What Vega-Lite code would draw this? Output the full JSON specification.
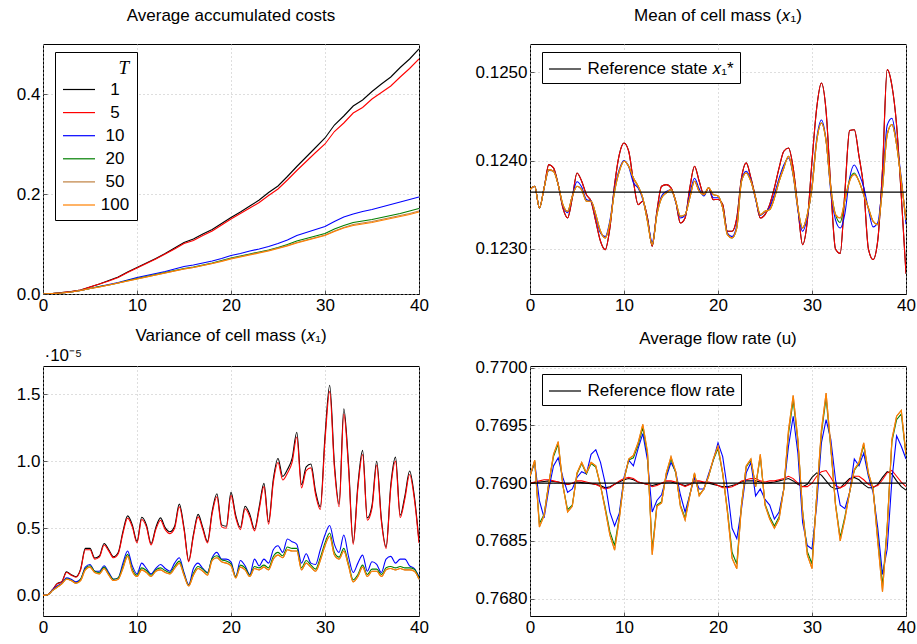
{
"$schema": "https://vega.github.io/schema/vega-lite/v6.json",
"background": "white",
"padding": {"left": 0, "top": 6, "right": 0, "bottom": 0},
"columns": 2,
"spacing": {"row": 72, "column": 111},
"bounds": "flush",
"datasets": {
"costs": [
{"x":0,"1":0,"5":0,"10":0,"20":0,"50":0,"100":0},
{"x":1,"1":0.001,"5":0.001,"10":0.001,"20":0.001,"50":0.001,"100":0.001},
{"x":2,"1":0.003,"5":0.003,"10":0.002,"20":0.002,"50":0.002,"100":0.002},
{"x":3,"1":0.005,"5":0.005,"10":0.004,"20":0.004,"50":0.004,"100":0.004},
{"x":4,"1":0.008,"5":0.008,"10":0.007,"20":0.007,"50":0.007,"100":0.007},
{"x":5,"1":0.014,"5":0.014,"10":0.011,"20":0.011,"50":0.011,"100":0.011},
{"x":6,"1":0.02,"5":0.02,"10":0.015,"20":0.015,"50":0.014,"100":0.014},
{"x":7,"1":0.027,"5":0.026,"10":0.019,"20":0.018,"50":0.018,"100":0.018},
{"x":8,"1":0.034,"5":0.033,"10":0.023,"20":0.022,"50":0.022,"100":0.022},
{"x":9,"1":0.044,"5":0.043,"10":0.028,"20":0.027,"50":0.026,"100":0.026},
{"x":10,"1":0.053,"5":0.052,"10":0.033,"20":0.031,"50":0.030,"100":0.030},
{"x":11,"1":0.062,"5":0.061,"10":0.037,"20":0.035,"50":0.034,"100":0.034},
{"x":12,"1":0.071,"5":0.070,"10":0.041,"20":0.039,"50":0.038,"100":0.038},
{"x":13,"1":0.081,"5":0.080,"10":0.045,"20":0.043,"50":0.042,"100":0.042},
{"x":14,"1":0.092,"5":0.090,"10":0.050,"20":0.047,"50":0.046,"100":0.046},
{"x":15,"1":0.103,"5":0.101,"10":0.055,"20":0.051,"50":0.050,"100":0.050},
{"x":16,"1":0.110,"5":0.107,"10":0.058,"20":0.054,"50":0.053,"100":0.053},
{"x":17,"1":0.120,"5":0.117,"10":0.062,"20":0.058,"50":0.057,"100":0.057},
{"x":18,"1":0.129,"5":0.126,"10":0.066,"20":0.062,"50":0.061,"100":0.061},
{"x":19,"1":0.141,"5":0.138,"10":0.071,"20":0.067,"50":0.066,"100":0.065},
{"x":20,"1":0.153,"5":0.150,"10":0.077,"20":0.072,"50":0.071,"100":0.070},
{"x":21,"1":0.164,"5":0.161,"10":0.081,"20":0.076,"50":0.075,"100":0.074},
{"x":22,"1":0.176,"5":0.172,"10":0.086,"20":0.080,"50":0.079,"100":0.078},
{"x":23,"1":0.188,"5":0.183,"10":0.090,"20":0.084,"50":0.083,"100":0.082},
{"x":24,"1":0.203,"5":0.197,"10":0.095,"20":0.088,"50":0.087,"100":0.086},
{"x":25,"1":0.216,"5":0.210,"10":0.101,"20":0.093,"50":0.092,"100":0.091},
{"x":26,"1":0.235,"5":0.228,"10":0.108,"20":0.099,"50":0.097,"100":0.096},
{"x":27,"1":0.255,"5":0.247,"10":0.117,"20":0.106,"50":0.103,"100":0.102},
{"x":28,"1":0.274,"5":0.265,"10":0.123,"20":0.111,"50":0.108,"100":0.107},
{"x":29,"1":0.293,"5":0.283,"10":0.129,"20":0.116,"50":0.113,"100":0.112},
{"x":30,"1":0.312,"5":0.300,"10":0.135,"20":0.121,"50":0.118,"100":0.117},
{"x":31,"1":0.338,"5":0.325,"10":0.145,"20":0.130,"50":0.126,"100":0.125},
{"x":32,"1":0.356,"5":0.342,"10":0.154,"20":0.137,"50":0.133,"100":0.132},
{"x":33,"1":0.376,"5":0.362,"10":0.160,"20":0.143,"50":0.139,"100":0.137},
{"x":34,"1":0.388,"5":0.373,"10":0.165,"20":0.146,"50":0.142,"100":0.140},
{"x":35,"1":0.405,"5":0.390,"10":0.169,"20":0.149,"50":0.145,"100":0.143},
{"x":36,"1":0.420,"5":0.403,"10":0.174,"20":0.153,"50":0.149,"100":0.147},
{"x":37,"1":0.434,"5":0.416,"10":0.179,"20":0.157,"50":0.153,"100":0.151},
{"x":38,"1":0.453,"5":0.434,"10":0.184,"20":0.161,"50":0.157,"100":0.155},
{"x":39,"1":0.470,"5":0.451,"10":0.189,"20":0.166,"50":0.161,"100":0.159},
{"x":40,"1":0.490,"5":0.470,"10":0.194,"20":0.171,"50":0.166,"100":0.164}
],
"mean": [
{"x":0,"1":0.123672,"5":0.123672,"10":0.123672,"20":0.123672,"50":0.123672,"100":0.123672},
{"x":0.5,"1":0.123709,"5":0.123709,"10":0.123709,"20":0.123709,"50":0.123709,"100":0.123709},
{"x":1,"1":0.123464,"5":0.123464,"10":0.123464,"20":0.123464,"50":0.123464,"100":0.123464},
{"x":1.5,"1":0.123691,"5":0.123691,"10":0.123691,"20":0.123691,"50":0.123691,"100":0.123691},
{"x":2,"1":0.123955,"5":0.123955,"10":0.12389,"20":0.123898,"50":0.123898,"100":0.123898},
{"x":2.5,"1":0.123917,"5":0.123917,"10":0.123885,"20":0.123879,"50":0.123879,"100":0.123879},
{"x":3,"1":0.123728,"5":0.123728,"10":0.123728,"20":0.123728,"50":0.123728,"100":0.123728},
{"x":3.5,"1":0.123464,"5":0.123464,"10":0.12349,"20":0.123502,"50":0.123502,"100":0.123502},
{"x":4,"1":0.123351,"5":0.123351,"10":0.12341,"20":0.123426,"50":0.123426,"100":0.123426},
{"x":4.5,"1":0.123577,"5":0.123577,"10":0.1236,"20":0.123596,"50":0.123596,"100":0.123596},
{"x":5,"1":0.12386,"5":0.12386,"10":0.12376,"20":0.123709,"50":0.123709,"100":0.123709},
{"x":5.5,"1":0.123766,"5":0.123766,"10":0.1237,"20":0.123672,"50":0.123672,"100":0.123672},
{"x":6,"1":0.123615,"5":0.123615,"10":0.12356,"20":0.12354,"50":0.12354,"100":0.12354},
{"x":6.5,"1":0.12354,"5":0.12354,"10":0.12354,"20":0.12354,"50":0.12354,"100":0.12354},
{"x":7,"1":0.123313,"5":0.123313,"10":0.12337,"20":0.123389,"50":0.123389,"100":0.123389},
{"x":7.5,"1":0.123087,"5":0.123087,"10":0.12318,"20":0.1232,"50":0.1232,"100":0.1232},
{"x":8,"1":0.122992,"5":0.122992,"10":0.12314,"20":0.123125,"50":0.123125,"100":0.123125},
{"x":8.5,"1":0.123238,"5":0.123238,"10":0.12332,"20":0.123294,"50":0.123294,"100":0.123294},
{"x":9,"1":0.123728,"5":0.123728,"10":0.12368,"20":0.123653,"50":0.123653,"100":0.123653},
{"x":9.5,"1":0.124068,"5":0.124068,"10":0.1239,"20":0.123879,"50":0.123879,"100":0.123879},
{"x":10,"1":0.1242,"5":0.1242,"10":0.124,"20":0.123992,"50":0.123992,"100":0.123992},
{"x":10.5,"1":0.124106,"5":0.124106,"10":0.12393,"20":0.123936,"50":0.123936,"100":0.123936},
{"x":11,"1":0.123766,"5":0.123766,"10":0.12375,"20":0.123804,"50":0.123804,"100":0.123804},
{"x":11.5,"1":0.123502,"5":0.123502,"10":0.12369,"20":0.123709,"50":0.123709,"100":0.123709},
{"x":12,"1":0.12354,"5":0.12354,"10":0.12356,"20":0.123577,"50":0.123577,"100":0.123577},
{"x":12.5,"1":0.123351,"5":0.123351,"10":0.12333,"20":0.123313,"50":0.123313,"100":0.123313},
{"x":13,"1":0.12303,"5":0.12303,"10":0.12308,"20":0.123049,"50":0.123049,"100":0.123049},
{"x":13.5,"1":0.123426,"5":0.123426,"10":0.1234,"20":0.123389,"50":0.123389,"100":0.123389},
{"x":14,"1":0.123709,"5":0.123709,"10":0.1236,"20":0.123577,"50":0.123577,"100":0.123577},
{"x":14.5,"1":0.123728,"5":0.123728,"10":0.12365,"20":0.123634,"50":0.123634,"100":0.123634},
{"x":15,"1":0.123691,"5":0.123691,"10":0.12367,"20":0.123672,"50":0.123672,"100":0.123672},
{"x":15.5,"1":0.12354,"5":0.12354,"10":0.12353,"20":0.12354,"50":0.12354,"100":0.12354},
{"x":16,"1":0.123294,"5":0.123294,"10":0.12335,"20":0.12337,"50":0.12337,"100":0.12337},
{"x":16.5,"1":0.123351,"5":0.123351,"10":0.12338,"20":0.123389,"50":0.123389,"100":0.123389},
{"x":17,"1":0.123691,"5":0.123691,"10":0.12362,"20":0.123577,"50":0.123577,"100":0.123577},
{"x":17.5,"1":0.123936,"5":0.123936,"10":0.1238,"20":0.123766,"50":0.123766,"100":0.123766},
{"x":18,"1":0.123766,"5":0.123766,"10":0.12368,"20":0.123653,"50":0.123653,"100":0.123653},
{"x":18.5,"1":0.123615,"5":0.123615,"10":0.1236,"20":0.123615,"50":0.123615,"100":0.123615},
{"x":19,"1":0.123691,"5":0.123691,"10":0.12369,"20":0.123691,"50":0.123691,"100":0.123691},
{"x":19.5,"1":0.123558,"5":0.123558,"10":0.12358,"20":0.123615,"50":0.123615,"100":0.123615},
{"x":20,"1":0.12356,"5":0.12356,"10":0.12358,"20":0.1236,"50":0.1236,"100":0.1236},
{"x":20.5,"1":0.123502,"5":0.123502,"10":0.12347,"20":0.123464,"50":0.123464,"100":0.123464},
{"x":21,"1":0.1232,"5":0.1232,"10":0.12318,"20":0.123162,"50":0.123162,"100":0.123162},
{"x":21.5,"1":0.1232,"5":0.1232,"10":0.12314,"20":0.123125,"50":0.123125,"100":0.123125},
{"x":22,"1":0.123351,"5":0.123351,"10":0.12327,"20":0.123238,"50":0.123238,"100":0.123238},
{"x":22.5,"1":0.123804,"5":0.123804,"10":0.12378,"20":0.123766,"50":0.123766,"100":0.123766},
{"x":23,"1":0.123974,"5":0.123974,"10":0.12388,"20":0.12386,"50":0.12386,"100":0.12386},
{"x":23.5,"1":0.123804,"5":0.123804,"10":0.12378,"20":0.123766,"50":0.123766,"100":0.123766},
{"x":24,"1":0.123577,"5":0.123577,"10":0.12356,"20":0.123577,"50":0.123577,"100":0.123577},
{"x":24.5,"1":0.123351,"5":0.123351,"10":0.12338,"20":0.123389,"50":0.123389,"100":0.123389},
{"x":25,"1":0.123389,"5":0.123389,"10":0.12342,"20":0.123426,"50":0.123426,"100":0.123426},
{"x":25.5,"1":0.123502,"5":0.123502,"10":0.12347,"20":0.123445,"50":0.123445,"100":0.123445},
{"x":26,"1":0.123691,"5":0.123691,"10":0.12362,"20":0.123577,"50":0.123577,"100":0.123577},
{"x":26.5,"1":0.123917,"5":0.123917,"10":0.1238,"20":0.123766,"50":0.123766,"100":0.123766},
{"x":27,"1":0.124106,"5":0.124106,"10":0.12395,"20":0.123917,"50":0.123917,"100":0.123917},
{"x":27.5,"1":0.124143,"5":0.124143,"10":0.12403,"20":0.124049,"50":0.124049,"100":0.124049},
{"x":28,"1":0.123917,"5":0.123917,"10":0.12383,"20":0.123842,"50":0.123842,"100":0.123842},
{"x":28.5,"1":0.123464,"5":0.123464,"10":0.12344,"20":0.123464,"50":0.123464,"100":0.123464},
{"x":29,"1":0.123049,"5":0.123049,"10":0.1232,"20":0.123238,"50":0.123238,"100":0.123238},
{"x":29.5,"1":0.123313,"5":0.123313,"10":0.12336,"20":0.123389,"50":0.123389,"100":0.123389},
{"x":30,"1":0.123992,"5":0.123992,"10":0.12372,"20":0.123691,"50":0.123691,"100":0.123691},
{"x":30.5,"1":0.124596,"5":0.124596,"10":0.12425,"20":0.124219,"50":0.124219,"100":0.124219},
{"x":31,"1":0.124879,"5":0.124879,"10":0.12446,"20":0.124426,"50":0.124426,"100":0.124426},
{"x":31.5,"1":0.124558,"5":0.124558,"10":0.12423,"20":0.124219,"50":0.124219,"100":0.124219},
{"x":32,"1":0.123691,"5":0.123691,"10":0.12365,"20":0.123691,"50":0.123691,"100":0.123691},
{"x":32.5,"1":0.123,"5":0.123,"10":0.12333,"20":0.123389,"50":0.123389,"100":0.123389},
{"x":33,"1":0.12295,"5":0.12295,"10":0.123237,"20":0.1233,"50":0.123351,"100":0.123351},
{"x":33.5,"1":0.12365,"5":0.12365,"10":0.1234,"20":0.12355,"50":0.12355,"100":0.12355},
{"x":34,"1":0.12434,"5":0.12434,"10":0.1238,"20":0.12378,"50":0.123766,"100":0.123766},
{"x":34.5,"1":0.12435,"5":0.12435,"10":0.12395,"20":0.12386,"50":0.123842,"100":0.123842},
{"x":35,"1":0.12405,"5":0.12405,"10":0.12385,"20":0.123766,"50":0.123766,"100":0.123766},
{"x":35.5,"1":0.12369,"5":0.12369,"10":0.1237,"20":0.123615,"50":0.123615,"100":0.123615},
{"x":36,"1":0.123,"5":0.123,"10":0.12345,"20":0.123464,"50":0.123464,"100":0.123464},
{"x":36.5,"1":0.12288,"5":0.12288,"10":0.12325,"20":0.123313,"50":0.123313,"100":0.123313},
{"x":37,"1":0.1231,"5":0.1231,"10":0.1233,"20":0.123275,"50":0.123275,"100":0.123275},
{"x":37.5,"1":0.1239,"5":0.1239,"10":0.12375,"20":0.123691,"50":0.123691,"100":0.123691},
{"x":38,"1":0.12503,"5":0.12503,"10":0.1244,"20":0.124294,"50":0.124294,"100":0.124294},
{"x":38.5,"1":0.12485,"5":0.12485,"10":0.12448,"20":0.124408,"50":0.124408,"100":0.124408},
{"x":39,"1":0.1244,"5":0.1244,"10":0.1242,"20":0.124181,"50":0.124181,"100":0.124181},
{"x":39.5,"1":0.1236,"5":0.1236,"10":0.1238,"20":0.123766,"50":0.123766,"100":0.123766},
{"x":40,"1":0.12272,"5":0.12272,"10":0.12328,"20":0.12333,"50":0.12333,"100":0.12333}
],
"var": [
{"x":0,"1":0,"5":0,"10":0,"20":0,"50":0,"100":0},
{"x":0.5,"1":0.005,"5":0.005,"10":0.005,"20":0.005,"50":0.005,"100":0.005},
{"x":1,"1":0.04,"5":0.04,"10":0.04,"20":0.035,"50":0.035,"100":0.035},
{"x":1.5,"1":0.087,"5":0.085,"10":0.07,"20":0.062,"50":0.06,"100":0.06},
{"x":2,"1":0.102,"5":0.1,"10":0.09,"20":0.087,"50":0.085,"100":0.085},
{"x":2.5,"1":0.175,"5":0.17,"10":0.13,"20":0.123,"50":0.12,"100":0.12},
{"x":3,"1":0.154,"5":0.15,"10":0.12,"20":0.113,"50":0.11,"100":0.11},
{"x":3.5,"1":0.139,"5":0.135,"10":0.1,"20":0.093,"50":0.09,"100":0.09},
{"x":4,"1":0.195,"5":0.19,"10":0.12,"20":0.12,"50":0.11,"100":0.11},
{"x":4.5,"1":0.35,"5":0.34,"10":0.21,"20":0.2,"50":0.19,"100":0.19},
{"x":5,"1":0.35,"5":0.34,"10":0.23,"20":0.22,"50":0.21,"100":0.21},
{"x":5.5,"1":0.278,"5":0.27,"10":0.18,"20":0.18,"50":0.17,"100":0.17},
{"x":6,"1":0.293,"5":0.285,"10":0.18,"20":0.17,"50":0.16,"100":0.16},
{"x":6.5,"1":0.386,"5":0.375,"10":0.22,"20":0.21,"50":0.2,"100":0.2},
{"x":7,"1":0.34,"5":0.33,"10":0.17,"20":0.16,"50":0.15,"100":0.15},
{"x":7.5,"1":0.288,"5":0.28,"10":0.12,"20":0.12,"50":0.11,"100":0.11},
{"x":8,"1":0.319,"5":0.31,"10":0.13,"20":0.13,"50":0.12,"100":0.12},
{"x":8.5,"1":0.474,"5":0.46,"10":0.24,"20":0.215,"50":0.2,"100":0.2},
{"x":9,"1":0.592,"5":0.575,"10":0.33,"20":0.305,"50":0.29,"100":0.29},
{"x":9.5,"1":0.525,"5":0.51,"10":0.22,"20":0.195,"50":0.18,"100":0.18},
{"x":10,"1":0.402,"5":0.39,"10":0.16,"20":0.15,"50":0.14,"100":0.14},
{"x":10.5,"1":0.582,"5":0.565,"10":0.24,"20":0.205,"50":0.19,"100":0.19},
{"x":11,"1":0.525,"5":0.51,"10":0.2,"20":0.185,"50":0.17,"100":0.17},
{"x":11.5,"1":0.386,"5":0.375,"10":0.16,"20":0.15,"50":0.14,"100":0.14},
{"x":12,"1":0.505,"5":0.49,"10":0.2,"20":0.19,"50":0.18,"100":0.18},
{"x":12.5,"1":0.577,"5":0.56,"10":0.23,"20":0.205,"50":0.19,"100":0.19},
{"x":13,"1":0.505,"5":0.49,"10":0.2,"20":0.185,"50":0.17,"100":0.17},
{"x":13.5,"1":0.474,"5":0.46,"10":0.18,"20":0.17,"50":0.16,"100":0.16},
{"x":14,"1":0.515,"5":0.5,"10":0.24,"20":0.215,"50":0.2,"100":0.2},
{"x":14.5,"1":0.68,"5":0.66,"10":0.28,"20":0.255,"50":0.24,"100":0.24},
{"x":15,"1":0.505,"5":0.49,"10":0.17,"20":0.16,"50":0.15,"100":0.15},
{"x":15.5,"1":0.258,"5":0.25,"10":0.08,"20":0.075,"50":0.07,"100":0.07},
{"x":16,"1":0.453,"5":0.44,"10":0.2,"20":0.165,"50":0.15,"100":0.15},
{"x":16.5,"1":0.603,"5":0.585,"10":0.24,"20":0.215,"50":0.2,"100":0.2},
{"x":17,"1":0.505,"5":0.49,"10":0.2,"20":0.195,"50":0.18,"100":0.18},
{"x":17.5,"1":0.402,"5":0.39,"10":0.17,"20":0.165,"50":0.15,"100":0.15},
{"x":18,"1":0.628,"5":0.61,"10":0.28,"20":0.275,"50":0.26,"100":0.26},
{"x":18.5,"1":0.757,"5":0.735,"10":0.32,"20":0.295,"50":0.28,"100":0.28},
{"x":19,"1":0.525,"5":0.51,"10":0.27,"20":0.265,"50":0.25,"100":0.25},
{"x":19.5,"1":0.515,"5":0.5,"10":0.27,"20":0.255,"50":0.24,"100":0.24},
{"x":20,"1":0.767,"5":0.745,"10":0.25,"20":0.235,"50":0.22,"100":0.22},
{"x":20.5,"1":0.597,"5":0.58,"10":0.14,"20":0.14,"50":0.13,"100":0.13},
{"x":21,"1":0.505,"5":0.49,"10":0.26,"20":0.225,"50":0.21,"100":0.21},
{"x":21.5,"1":0.664,"5":0.645,"10":0.22,"20":0.205,"50":0.19,"100":0.19},
{"x":22,"1":0.603,"5":0.585,"10":0.155,"20":0.15,"50":0.14,"100":0.14},
{"x":22.5,"1":0.494,"5":0.48,"10":0.27,"20":0.215,"50":0.2,"100":0.2},
{"x":23,"1":0.659,"5":0.64,"10":0.22,"20":0.205,"50":0.19,"100":0.19},
{"x":23.5,"1":0.834,"5":0.81,"10":0.27,"20":0.225,"50":0.21,"100":0.21},
{"x":24,"1":0.546,"5":0.53,"10":0.24,"20":0.205,"50":0.19,"100":0.19},
{"x":24.5,"1":0.865,"5":0.84,"10":0.34,"20":0.29,"50":0.27,"100":0.27},
{"x":25,"1":1.02,"5":0.99,"10":0.37,"20":0.32,"50":0.3,"100":0.3},
{"x":25.5,"1":0.886,"5":0.86,"10":0.32,"20":0.295,"50":0.28,"100":0.28},
{"x":26,"1":0.937,"5":0.91,"10":0.42,"20":0.36,"50":0.34,"100":0.34},
{"x":26.5,"1":1.02,"5":0.99,"10":0.4,"20":0.35,"50":0.33,"100":0.33},
{"x":27,"1":1.215,"5":1.18,"10":0.38,"20":0.35,"50":0.33,"100":0.33},
{"x":27.5,"1":0.824,"5":0.8,"10":0.24,"20":0.205,"50":0.19,"100":0.19},
{"x":28,"1":0.958,"5":0.93,"10":0.31,"20":0.26,"50":0.24,"100":0.24},
{"x":28.5,"1":0.979,"5":0.95,"10":0.24,"20":0.225,"50":0.21,"100":0.21},
{"x":29,"1":0.773,"5":0.75,"10":0.23,"20":0.195,"50":0.18,"100":0.18},
{"x":29.5,"1":0.659,"5":0.64,"10":0.34,"20":0.28,"50":0.26,"100":0.26},
{"x":30,"1":1.185,"5":1.15,"10":0.45,"20":0.39,"50":0.37,"100":0.37},
{"x":30.5,"1":1.565,"5":1.52,"10":0.52,"20":0.465,"50":0.44,"100":0.44},
{"x":31,"1":0.979,"5":0.95,"10":0.38,"20":0.32,"50":0.3,"100":0.3},
{"x":31.5,"1":0.68,"5":0.66,"10":0.32,"20":0.285,"50":0.27,"100":0.27},
{"x":32,"1":1.39,"5":1.35,"10":0.45,"20":0.35,"50":0.33,"100":0.33},
{"x":32.5,"1":0.979,"5":0.95,"10":0.29,"20":0.235,"50":0.22,"100":0.22},
{"x":33,"1":0.391,"5":0.38,"10":0.17,"20":0.115,"50":0.1,"100":0.1},
{"x":33.5,"1":0.824,"5":0.8,"10":0.24,"20":0.155,"50":0.14,"100":0.14},
{"x":34,"1":1.08,"5":1.05,"10":0.3,"20":0.225,"50":0.21,"100":0.21},
{"x":34.5,"1":0.577,"5":0.56,"10":0.18,"20":0.155,"50":0.14,"100":0.14},
{"x":35,"1":0.67,"5":0.65,"10":0.25,"20":0.195,"50":0.18,"100":0.18},
{"x":35.5,"1":0.999,"5":0.97,"10":0.23,"20":0.195,"50":0.18,"100":0.18},
{"x":36,"1":0.567,"5":0.55,"10":0.17,"20":0.155,"50":0.14,"100":0.14},
{"x":36.5,"1":0.36,"5":0.35,"10":0.27,"20":0.205,"50":0.19,"100":0.19},
{"x":37,"1":0.824,"5":0.8,"10":0.29,"20":0.215,"50":0.2,"100":0.2},
{"x":37.5,"1":1.03,"5":1.0,"10":0.24,"20":0.205,"50":0.19,"100":0.19},
{"x":38,"1":0.597,"5":0.58,"10":0.27,"20":0.215,"50":0.2,"100":0.2},
{"x":38.5,"1":0.742,"5":0.72,"10":0.27,"20":0.205,"50":0.19,"100":0.19},
{"x":39,"1":0.927,"5":0.9,"10":0.22,"20":0.205,"50":0.19,"100":0.19},
{"x":39.5,"1":0.742,"5":0.72,"10":0.2,"20":0.195,"50":0.18,"100":0.18},
{"x":40,"1":0.402,"5":0.39,"10":0.14,"20":0.13,"50":0.12,"100":0.12}
],
"flow": [
{"x":0,"1":0.769,"5":0.769,"10":0.76906,"20":0.76906,"50":0.76906,"100":0.76906},
{"x":0.5,"1":0.769005,"5":0.76901,"10":0.76918,"20":0.76919,"50":0.7692,"100":0.7692},
{"x":1,"1":0.76901,"5":0.76902,"10":0.76885,"20":0.76865,"50":0.76862,"100":0.76862},
{"x":1.5,"1":0.769015,"5":0.76903,"10":0.7687,"20":0.76873,"50":0.76872,"100":0.76872},
{"x":2,"1":0.76902,"5":0.76903,"10":0.76895,"20":0.769,"50":0.769,"100":0.769},
{"x":2.5,"1":0.769015,"5":0.76902,"10":0.76915,"20":0.76923,"50":0.76925,"100":0.76925},
{"x":3,"1":0.76901,"5":0.76901,"10":0.76922,"20":0.76934,"50":0.76936,"100":0.76936},
{"x":3.5,"1":0.769,"5":0.769,"10":0.76905,"20":0.76898,"50":0.76898,"100":0.76898},
{"x":4,"1":0.76899,"5":0.76899,"10":0.76892,"20":0.76877,"50":0.76875,"100":0.76875},
{"x":4.5,"1":0.769,"5":0.769,"10":0.76895,"20":0.76881,"50":0.7688,"100":0.7688},
{"x":5,"1":0.76901,"5":0.76902,"10":0.76905,"20":0.76908,"50":0.76909,"100":0.76909},
{"x":5.5,"1":0.769005,"5":0.76902,"10":0.7691,"20":0.76917,"50":0.76918,"100":0.76918},
{"x":6,"1":0.769,"5":0.76901,"10":0.76908,"20":0.76908,"50":0.76909,"100":0.76909},
{"x":6.5,"1":0.768995,"5":0.769,"10":0.76925,"20":0.76917,"50":0.76918,"100":0.76918},
{"x":7,"1":0.76899,"5":0.76899,"10":0.76929,"20":0.76914,"50":0.76915,"100":0.76915},
{"x":7.5,"1":0.76898,"5":0.76897,"10":0.76918,"20":0.76898,"50":0.76898,"100":0.76898},
{"x":8,"1":0.76896,"5":0.76895,"10":0.769,"20":0.76879,"50":0.76877,"100":0.76877},
{"x":8.5,"1":0.76897,"5":0.76896,"10":0.76875,"20":0.76858,"50":0.76855,"100":0.76855},
{"x":9,"1":0.76899,"5":0.76899,"10":0.76863,"20":0.76846,"50":0.76842,"100":0.76842},
{"x":9.5,"1":0.76901,"5":0.76902,"10":0.76874,"20":0.76871,"50":0.76869,"100":0.76869},
{"x":10,"1":0.76903,"5":0.76904,"10":0.76905,"20":0.76903,"50":0.76903,"100":0.76903},
{"x":10.5,"1":0.76904,"5":0.76905,"10":0.7692,"20":0.7692,"50":0.76921,"100":0.76921},
{"x":11,"1":0.76903,"5":0.76904,"10":0.76915,"20":0.76922,"50":0.76924,"100":0.76924},
{"x":11.5,"1":0.76901,"5":0.76901,"10":0.7693,"20":0.76933,"50":0.76935,"100":0.76935},
{"x":12,"1":0.769,"5":0.769,"10":0.76943,"20":0.76948,"50":0.76951,"100":0.76951},
{"x":12.5,"1":0.76899,"5":0.76899,"10":0.7692,"20":0.76925,"50":0.76927,"100":0.76927},
{"x":13,"1":0.76898,"5":0.76897,"10":0.76875,"20":0.76842,"50":0.76838,"100":0.76838},
{"x":13.5,"1":0.76899,"5":0.76898,"10":0.76885,"20":0.76881,"50":0.7688,"100":0.7688},
{"x":14,"1":0.769,"5":0.769,"10":0.7689,"20":0.76884,"50":0.76883,"100":0.76883},
{"x":14.5,"1":0.76901,"5":0.76902,"10":0.76905,"20":0.76908,"50":0.76909,"100":0.76909},
{"x":15,"1":0.76901,"5":0.76902,"10":0.76918,"20":0.76921,"50":0.76923,"100":0.76923},
{"x":15.5,"1":0.769,"5":0.76901,"10":0.7691,"20":0.76909,"50":0.7691,"100":0.7691},
{"x":16,"1":0.76899,"5":0.76899,"10":0.7689,"20":0.76881,"50":0.7688,"100":0.7688},
{"x":16.5,"1":0.76898,"5":0.76897,"10":0.76875,"20":0.7687,"50":0.76868,"100":0.76868},
{"x":17,"1":0.76899,"5":0.76899,"10":0.7689,"20":0.7689,"50":0.76889,"100":0.76889},
{"x":17.5,"1":0.76901,"5":0.76902,"10":0.76905,"20":0.76908,"50":0.76909,"100":0.76909},
{"x":18,"1":0.76901,"5":0.76902,"10":0.76895,"20":0.7689,"50":0.76889,"100":0.76889},
{"x":18.5,"1":0.769005,"5":0.76901,"10":0.76895,"20":0.76895,"50":0.76895,"100":0.76895},
{"x":19,"1":0.769,"5":0.76901,"10":0.76908,"20":0.76906,"50":0.76906,"100":0.76906},
{"x":19.5,"1":0.76899,"5":0.769,"10":0.7692,"20":0.7692,"50":0.76921,"100":0.76921},
{"x":20,"1":0.76898,"5":0.76898,"10":0.76935,"20":0.7693,"50":0.76932,"100":0.76932},
{"x":20.5,"1":0.76897,"5":0.76896,"10":0.76923,"20":0.76908,"50":0.76909,"100":0.76909},
{"x":21,"1":0.76897,"5":0.76896,"10":0.76895,"20":0.76877,"50":0.76875,"100":0.76875},
{"x":21.5,"1":0.76898,"5":0.76897,"10":0.76861,"20":0.7684,"50":0.76835,"100":0.76835},
{"x":22,"1":0.76899,"5":0.76899,"10":0.76852,"20":0.7683,"50":0.76826,"100":0.76826},
{"x":22.5,"1":0.76901,"5":0.76902,"10":0.76878,"20":0.76882,"50":0.76881,"100":0.76881},
{"x":23,"1":0.76902,"5":0.76903,"10":0.76909,"20":0.76914,"50":0.76915,"100":0.76915},
{"x":23.5,"1":0.76902,"5":0.76904,"10":0.76918,"20":0.7692,"50":0.76921,"100":0.76921},
{"x":24,"1":0.76902,"5":0.76904,"10":0.76889,"20":0.76897,"50":0.76897,"100":0.76897},
{"x":24.5,"1":0.76901,"5":0.76902,"10":0.76895,"20":0.76923,"50":0.76925,"100":0.76925},
{"x":25,"1":0.769,"5":0.76901,"10":0.76886,"20":0.76882,"50":0.76881,"100":0.76881},
{"x":25.5,"1":0.769005,"5":0.76902,"10":0.76881,"20":0.76871,"50":0.76869,"100":0.76869},
{"x":26,"1":0.76901,"5":0.76902,"10":0.76869,"20":0.76863,"50":0.76861,"100":0.76861},
{"x":26.5,"1":0.76902,"5":0.76903,"10":0.76875,"20":0.76871,"50":0.76869,"100":0.76869},
{"x":27,"1":0.76903,"5":0.76904,"10":0.76895,"20":0.76895,"50":0.76895,"100":0.76895},
{"x":27.5,"1":0.76904,"5":0.76906,"10":0.76932,"20":0.76943,"50":0.76946,"100":0.76946},
{"x":28,"1":0.76902,"5":0.76904,"10":0.76958,"20":0.76972,"50":0.76976,"100":0.76976},
{"x":28.5,"1":0.76899,"5":0.769,"10":0.76926,"20":0.76936,"50":0.76938,"100":0.76938},
{"x":29,"1":0.76897,"5":0.76897,"10":0.76866,"20":0.76876,"50":0.76875,"100":0.76875},
{"x":29.5,"1":0.76899,"5":0.76897,"10":0.76846,"20":0.76841,"50":0.76838,"100":0.76838},
{"x":30,"1":0.76905,"5":0.769,"10":0.76843,"20":0.7683,"50":0.76826,"100":0.76826},
{"x":30.5,"1":0.76909,"5":0.76906,"10":0.76881,"20":0.76889,"50":0.76889,"100":0.76889},
{"x":31,"1":0.76907,"5":0.7691,"10":0.76935,"20":0.76943,"50":0.76946,"100":0.76946},
{"x":31.5,"1":0.76902,"5":0.76911,"10":0.76955,"20":0.76974,"50":0.76978,"100":0.76978},
{"x":32,"1":0.76897,"5":0.76905,"10":0.76938,"20":0.7693,"50":0.76932,"100":0.76932},
{"x":32.5,"1":0.76895,"5":0.76898,"10":0.76903,"20":0.76882,"50":0.76881,"100":0.76881},
{"x":33,"1":0.76896,"5":0.76896,"10":0.76881,"20":0.76853,"50":0.7685,"100":0.7685},
{"x":33.5,"1":0.769,"5":0.76898,"10":0.76878,"20":0.76871,"50":0.76869,"100":0.76869},
{"x":34,"1":0.76904,"5":0.76903,"10":0.76892,"20":0.76892,"50":0.76892,"100":0.76892},
{"x":34.5,"1":0.76905,"5":0.76906,"10":0.76921,"20":0.76911,"50":0.76912,"100":0.76912},
{"x":35,"1":0.76903,"5":0.76906,"10":0.76915,"20":0.76917,"50":0.76918,"100":0.76918},
{"x":35.5,"1":0.76899,"5":0.76903,"10":0.76926,"20":0.76933,"50":0.76935,"100":0.76935},
{"x":36,"1":0.76896,"5":0.76899,"10":0.76906,"20":0.76908,"50":0.76909,"100":0.76909},
{"x":36.5,"1":0.76896,"5":0.76897,"10":0.76892,"20":0.76895,"50":0.76895,"100":0.76895},
{"x":37,"1":0.76899,"5":0.76898,"10":0.76861,"20":0.76852,"50":0.76849,"100":0.76849},
{"x":37.5,"1":0.76905,"5":0.76903,"10":0.76821,"20":0.76811,"50":0.76806,"100":0.76806},
{"x":38,"1":0.7691,"5":0.76909,"10":0.76843,"20":0.76863,"50":0.76861,"100":0.76861},
{"x":38.5,"1":0.76908,"5":0.76911,"10":0.76903,"20":0.76936,"50":0.76938,"100":0.76938},
{"x":39,"1":0.76902,"5":0.76906,"10":0.76941,"20":0.76955,"50":0.76958,"100":0.76958},
{"x":39.5,"1":0.76897,"5":0.76901,"10":0.76932,"20":0.7696,"50":0.76963,"100":0.76963},
{"x":40,"1":0.76894,"5":0.76897,"10":0.76921,"20":0.76924,"50":0.76925,"100":0.76925}
]
},
"concat": [
{
"title": {"text": "Average accumulated costs", "offset": 19},
"width": 376, "height": 250,
"data": {"name": "costs"},
"transform": [{"fold": ["1","5","10","20","50","100"], "as": ["T","v"]}],
"mark": {"type": "line", "strokeWidth": 1.1, "clip": true},
"encoding": {
"x": {"field": "x", "type": "quantitative", "scale": {"domain": [0,40], "nice": false}, "axis": {"values": [0,10,20,30,40], "format": "d", "title": null}},
"y": {"field": "v", "type": "quantitative", "scale": {"domain": [0,0.5], "nice": false, "zero": false}, "axis": {"values": [0,0.2,0.4], "format": ".1f", "title": null}},
"color": {"field": "T", "type": "nominal", "scale": {"domain": ["1","5","10","20","50","100"], "range": ["#000000","#ff0000","#0000ff","#007f00","#bf8040","#ff8000"]},
"legend": {"orient": "none", "legendX": 12, "legendY": 8, "title": "T\u2002", "titleFont": "Liberation Serif", "titleFontStyle": "italic", "titleFontSize": 19, "titleFontWeight": "normal", "titleColor": "black", "titleAnchor": "end", "titlePadding": 0.5, "padding": 7, "strokeColor": "black", "fillColor": "white", "cornerRadius": 0, "symbolType": "M-1,0H2.2", "symbolSize": 400, "symbolStrokeWidth": 1.2, "labelFont": "Liberation Sans", "labelFontSize": 17, "labelColor": "black", "labelAlign": "center", "labelOffset": 31, "rowPadding": 4.1}}
}
},
{
"title": {"text": "Mean of cell mass (𝑥₁)", "offset": 19},
"width": 376, "height": 250,
"layer": [
{
"data": {"name": "mean"},
"transform": [{"fold": ["1","5","10","20","50","100"], "as": ["T","v"]}],
"mark": {"type": "line", "strokeWidth": 1.1, "clip": true, "interpolate": "monotone"},
"encoding": {
"x": {"field": "x", "type": "quantitative", "scale": {"domain": [0,40], "nice": false}, "axis": {"values": [0,10,20,30,40], "format": "d", "title": null}},
"y": {"field": "v", "type": "quantitative", "scale": {"domain": [0.12249,0.12532], "nice": false, "zero": false}, "axis": {"values": [0.123,0.124,0.125], "format": ".4f", "title": null}},
"color": {"field": "T", "type": "nominal", "scale": {"domain": ["1","5","10","20","50","100"], "range": ["#000000","#ff0000","#0000ff","#007f00","#bf8040","#ff8000"]}, "legend": null}
}
},
{
"data": {"values": [{"label": "Reference state 𝑥₁*", "v": 0.123644}]},
"mark": {"type": "rule", "strokeWidth": 1.2},
"encoding": {
"y": {"field": "v", "type": "quantitative", "scale": {"domain": [0.12249,0.12532], "nice": false, "zero": false}, "axis": {"values": [0.123,0.124,0.125], "format": ".4f", "title": null}},
"color": {"field": "label", "type": "nominal", "scale": {"range": ["#000000"]},
"legend": {"orient": "none", "legendX": 12, "legendY": 8, "title": null, "padding": 6, "strokeColor": "black", "fillColor": "white", "cornerRadius": 0, "symbolType": "M-1,0H2.2", "symbolSize": 400, "symbolStrokeWidth": 1.2, "labelFont": "Liberation Sans", "labelFontSize": 17, "labelColor": "black", "labelOffset": 17.5, "labelLimit": 400}}
}
}
],
"resolve": {"scale": {"color": "independent"}, "legend": {"color": "independent"}}
},
{
"title": {"text": "Variance of cell mass (𝑥₁)", "offset": 1},
"width": 376, "height": 250,
"data": {"name": "var"},
"transform": [{"fold": ["1","5","10","20","50","100"], "as": ["T","v"]}],
"mark": {"type": "line", "strokeWidth": 1.1, "clip": true, "interpolate": "monotone"},
"encoding": {
"x": {"field": "x", "type": "quantitative", "scale": {"domain": [0,40], "nice": false}, "axis": {"values": [0,10,20,30,40], "format": "d", "title": null}},
"y": {"field": "v", "type": "quantitative", "scale": {"domain": [-0.154,1.709], "nice": false, "zero": false}, "axis": {"values": [0,0.5,1,1.5], "format": ".1f", "title": "·10⁻⁵", "titleAngle": 0, "titleAlign": "left", "titleBaseline": "alphabetic", "titleX": 1, "titleY": -6, "titleFont": "Liberation Sans", "titleFontSize": 17, "titleFontWeight": "normal", "titleColor": "black"}},
"color": {"field": "T", "type": "nominal", "scale": {"domain": ["1","5","10","20","50","100"], "range": ["#000000","#ff0000","#0000ff","#007f00","#bf8040","#ff8000"]}, "legend": null}
}
},
{
"title": {"text": "Average flow rate (u)", "offset": 11},
"width": 376, "height": 250,
"layer": [
{
"data": {"name": "flow"},
"transform": [{"fold": ["1","5","10","20","50","100"], "as": ["T","v"]}],
"mark": {"type": "line", "strokeWidth": 1.1, "clip": true},
"encoding": {
"x": {"field": "x", "type": "quantitative", "scale": {"domain": [0,40], "nice": false}, "axis": {"values": [0,10,20,30,40], "format": "d", "title": null}},
"y": {"field": "v", "type": "quantitative", "scale": {"domain": [0.76785,0.770015], "nice": false, "zero": false}, "axis": {"values": [0.768,0.7685,0.769,0.7695,0.77], "format": ".4f", "title": null}},
"color": {"field": "T", "type": "nominal", "scale": {"domain": ["1","5","10","20","50","100"], "range": ["#000000","#ff0000","#0000ff","#007f00","#bf8040","#ff8000"]}, "legend": null}
}
},
{
"data": {"values": [{"label": "Reference flow rate", "v": 0.769}]},
"mark": {"type": "rule", "strokeWidth": 1.2},
"encoding": {
"y": {"field": "v", "type": "quantitative", "scale": {"domain": [0.76785,0.770015], "nice": false, "zero": false}, "axis": {"values": [0.768,0.7685,0.769,0.7695,0.77], "format": ".4f", "title": null}},
"color": {"field": "label", "type": "nominal", "scale": {"range": ["#000000"]},
"legend": {"orient": "none", "legendX": 12, "legendY": 8, "title": null, "padding": 6, "strokeColor": "black", "fillColor": "white", "cornerRadius": 0, "symbolType": "M-1,0H2.2", "symbolSize": 400, "symbolStrokeWidth": 1.2, "labelFont": "Liberation Sans", "labelFontSize": 17, "labelColor": "black", "labelOffset": 17.5, "labelLimit": 400}}
}
}
],
"resolve": {"scale": {"color": "independent"}, "legend": {"color": "independent"}}
}
],
"resolve": {"scale": {"color": "independent"}, "legend": {"color": "independent"}},
"config": {
"font": "Liberation Sans",
"view": {"stroke": "black", "strokeWidth": 1},
"axis": {"domain": false, "grid": true, "gridColor": "#bdbdbd", "gridDash": [1,3], "gridWidth": 1, "ticks": true, "tickColor": "#333333", "tickSize": -4, "tickWidth": 0.8, "labelFont": "Liberation Sans", "labelFontSize": 17, "labelColor": "black", "labelPadding": 7, "labelFlush": false, "labelOverlap": false},
"axisY": {"minExtent": 42},
"title": {"font": "Liberation Sans", "fontSize": 17, "fontWeight": "normal", "color": "black", "baseline": "alphabetic", "anchor": "middle"}
}
}
